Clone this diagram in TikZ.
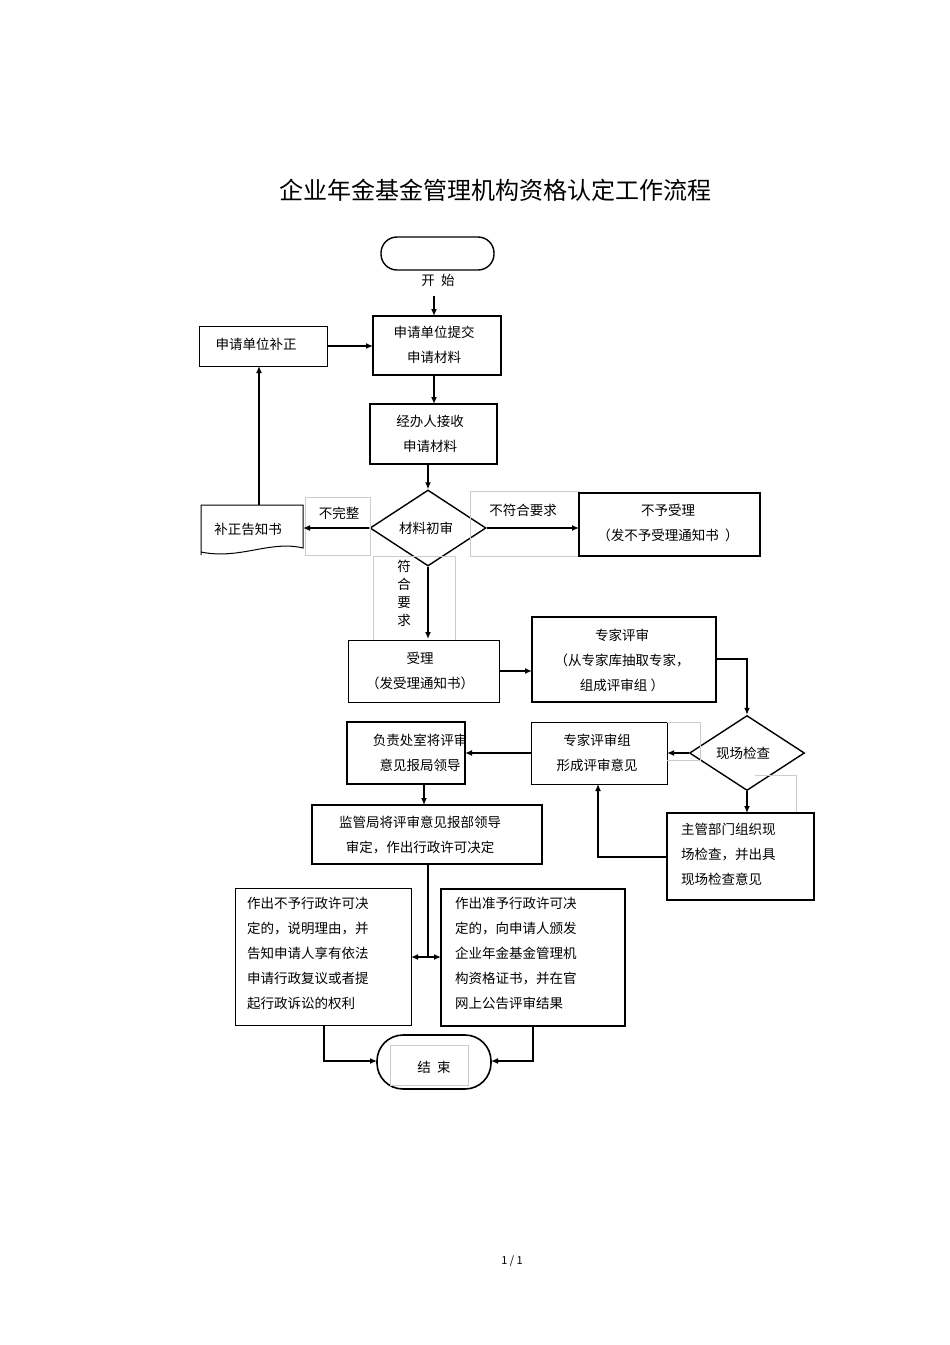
\documentclass[tikz,border=0pt]{standalone}
\usepackage{fontspec}
\setmainfont{Noto Sans CJK SC}
\usetikzlibrary{arrows.meta,shapes.geometric}
\begin{document}
\begin{tikzpicture}[x=1pt,y=-1pt,
  box/.style={draw,line width=1.4pt,inner sep=0pt},
  thin/.style={draw,line width=1pt,inner sep=0pt},
  txt/.style={font=\fontsize{13.5}{25}\selectfont,align=center,inner sep=0pt},
  ltxt/.style={font=\fontsize{13.5}{25}\selectfont,align=left,inner sep=0pt,anchor=north west},
  arr/.style={line width=1.4pt,-{Latex[length=7pt,width=6pt]}},
  ln/.style={line width=1.4pt}]
\useasboundingbox (0,0) rectangle (950,1345);
\fill[white] (0,0) rectangle (950,1345);
\node[font=\fontsize{24}{28}\selectfont] (title) at (495,190) {企业年金基金管理机构资格认定工作流程};
% start
\draw[line width=1.4pt,rounded corners=16pt] (381,237) rectangle (494,270);
\node (st) at (437.5,253) {};
\node[txt] (stl) at (438,280) {开\ \ 始};
\coordinate (s0) at (434,296);
% boxes
\draw[box] (373,316) rectangle (501,375); \node (A) at (437,345.5) {};
\node[txt] at (434,345) {申请单位提交\\申请材料};
\draw[thin] (199,326) rectangle (327,366); \node[txt] (C) at (256,344) {申请单位补正};
\draw[box] (370,404) rectangle (497,464); \node[txt] (B) at (430,434) {经办人接收\\申请材料};
\node[draw,line width=1.4pt,diamond,minimum width=116pt,minimum height=76pt,inner sep=0pt,aspect=1.53] (D) at (428,528) {};
\node[txt] at (426,528) {材料初审};
% document shape
\draw[line width=1pt] (201,555) -- (201,505) -- (303,505) -- (303,548) .. controls (270,540) and (240,560) .. (201,552);
\node[txt] (bz) at (248,529) {补正告知书};
\draw[gray!40,line width=0.4pt] (305,497) rectangle (370,555);
\draw[gray!40,line width=0.4pt] (373,556) rectangle (455,640);
\draw[gray!40,line width=0.4pt] (470,491) rectangle (579,556);
\node[txt] at (339,513) {不完整};
\node[txt] at (523,510) {不符合要求};
\node[txt,font=\fontsize{13.5}{18}\selectfont] at (404,593) {符\\合\\要\\求};
\draw[box] (579,493) rectangle (760,556);
\node[txt] at (668,523) {不予受理\\（发不予受理通知书\ \ ）};
\draw[thin] (348,640) rectangle (499,702); \node[txt] (S) at (420,671) {受理\\（发受理通知书）};
\draw[box] (532,617) rectangle (716,702); \node[txt,font=\fontsize{13.5}{25}\selectfont] (E) at (622,660) {专家评审\\（从专家库抽取专家，\\组成评审组\ ）};
\node[draw,line width=1.4pt,diamond,minimum width=115pt,minimum height=75pt,inner sep=0pt,aspect=1.53] (X) at (747,753) {};
\node[txt] at (743,753) {现场检查};
\draw[thin] (531,722) rectangle (667,784); \node[txt] (G) at (597,753) {专家评审组\\形成评审意见};
\draw[gray!40,line width=0.4pt] (667,722) -- (700,722) -- (700,760) -- (667,760);
\draw[gray!40,line width=0.4pt] (755,775) -- (796,775) -- (796,813);
\draw[box] (347,722) rectangle (465,784); \node[txt] (F) at (420,753) {负责处室将评审\\意见报局领导};
\draw[box] (667,813) rectangle (814,900); \node[ltxt] (M) at (681,823) {主管部门组织现\\场检查，并出具\\现场检查意见};
\draw[box] (312,805) rectangle (542,864); \node[txt] (J) at (420,835) {监管局将评审意见报部领导\\审定，作出行政许可决定};
\draw[thin] (235,888) rectangle (411,1025); \node[ltxt] (L) at (247,897) {作出不予行政许可决\\定的，说明理由，并\\告知申请人享有依法\\申请行政复议或者提\\起行政诉讼的权利};
\draw[box] (441,889) rectangle (625,1026); \node[ltxt] (R) at (455,897) {作出准予行政许可决\\定的，向申请人颁发\\企业年金基金管理机\\构资格证书，并在官\\网上公告评审结果};
\draw[line width=1.6pt,rounded corners=26pt] (377,1035) rectangle (491,1089);
\draw[gray!40,line width=0.4pt] (390,1045) rectangle (468,1085);
\node[txt] (end) at (434,1067) {结\ \ 束};
\node[font=\fontsize{11}{13}\selectfont] (pg) at (512,1261) {1 / 1};
% connectors
\coordinate (a1) at (434,316); \draw[arr] (s0) -- (a1);
\coordinate (c1) at (327,346); \coordinate (c2) at (373,346); \draw[arr] (c1) -- (c2);
\coordinate (a2) at (434,375); \coordinate (b1) at (434,404); \draw[arr] (a2) -- (b1);
\coordinate (b2) at (428,464); \draw[arr] (b2) -- (D.north);
\coordinate (d1) at (303,528); \draw[arr] (D.west) -- (d1);
\coordinate (d2) at (579,528); \draw[arr] (D.east) -- (d2);
\coordinate (u1) at (259,505); \coordinate (u2) at (259,366); \draw[arr] (u1) -- (u2);
\coordinate (s1) at (428,639); \draw[arr] (D.south) -- (s1);
\coordinate (s2) at (499,671); \coordinate (e1) at (532,671); \draw[arr] (s2) -- (e1);
\coordinate (e2) at (716,659); \draw[arr] (e2) -| (X.north);
\coordinate (g1) at (667,753); \draw[arr] (X.west) -- (g1);
\coordinate (g2) at (531,753); \coordinate (f1) at (465,753); \draw[arr] (g2) -- (f1);
\coordinate (m1) at (747,813); \draw[arr] (X.south) -- (m1);
\coordinate (m2) at (667,857); \coordinate (g3) at (598,784); \draw[arr] (m2) -| (g3);
\coordinate (f2) at (424,784); \coordinate (j1) at (424,805); \draw[arr] (f2) -- (j1);
\coordinate (j2) at (428,864); \coordinate (j3) at (428,957);
\draw[ln] (j2) -- (j3);
\coordinate (l1) at (411,957); \coordinate (r1) at (441,957);
\draw[arr] (j3) -- (l1); \draw[arr] (j3) -- (r1);
\coordinate (l2) at (324,1025); \coordinate (e3) at (377,1061); \draw[arr] (l2) |- (e3);
\coordinate (r2) at (533,1026); \coordinate (e4) at (491,1061); \draw[arr] (r2) |- (e4);
\end{tikzpicture}
\end{document}
